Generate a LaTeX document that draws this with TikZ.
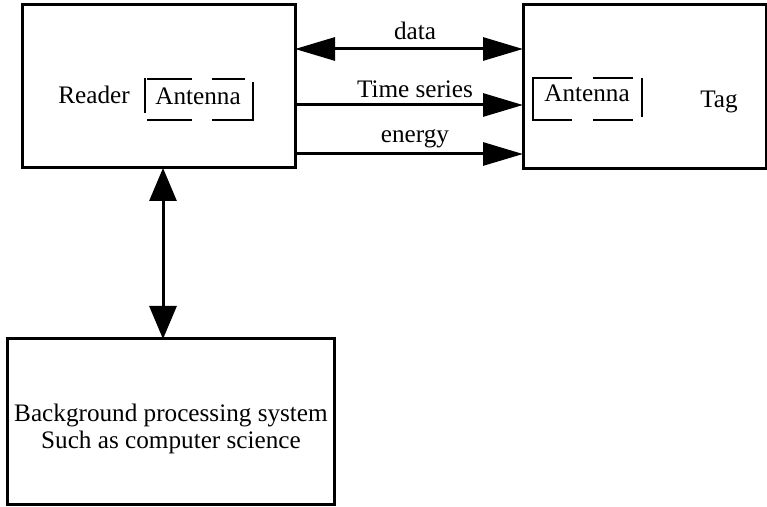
\documentclass[tikz,border=0pt]{standalone}
\usepackage{fontspec}
\setmainfont{Liberation Serif}
\usetikzlibrary{arrows.meta}
\begin{document}
\begin{tikzpicture}[x=0.5pt,y=-0.5pt,
  every node/.style={font=\fontsize{12.6}{15.5}\selectfont, inner sep=0pt, outer sep=0pt},
  block/.style={draw, line width=1.5pt, rectangle, outer sep=0pt},
  link/.style={line width=1.5pt},
  ant/.style={line width=1.4pt},
  lbl/.style={anchor=base}]
  \useasboundingbox (0,0) rectangle (767,507);

  % main blocks
  \node[block, minimum width=136.5pt, minimum height=81.5pt] (reader) at (158.5,86.5) {};
  \node[block, minimum width=121.5pt, minimum height=82pt] (tag) at (644.5,87) {};
  \node[block, minimum width=163.5pt, minimum height=83pt] (host) at (170.5,422) {};

  % block captions
  \node[lbl] (readertxt) at (94,104) {Reader};
  \node[lbl] (tagtxt) at (719,108) {Tag};
  \node[lbl] (hostline1) at (171,422) {Background processing system};
  \node[lbl] (hostline2) at (171,449) {Such as computer science};

  % reader antenna
  \node[lbl] (rant) at (198,105) {Antenna};
  \draw[ant] (145,78) -- (145,113);
  \draw[ant] (147,79) -- (192,79);
  \draw[ant] (212,79) -- (245,79);
  \draw[ant] (147,120) -- (192,120);
  \draw[ant] (212,120) -- (253,120) -- (253,82);

  % tag antenna
  \node[lbl] (tant) at (587,102) {Antenna};
  \draw[ant] (572,78) -- (533,78) -- (533,120) -- (572,120);
  \draw[ant] (593,78) -- (633,78);
  \draw[ant] (593,120) -- (633,120);
  \draw[ant] (642,78) -- (642,117);

  % links between reader and tag
  \coordinate (ydata) at (0,49);
  \coordinate (ytime) at (0,105);
  \coordinate (yenergy) at (0,154);
  \draw[link, {Triangle[length=20pt,width=11.5pt]}-{Triangle[length=20pt,width=11.5pt]}]
    (reader.east |- ydata) -- (tag.west |- ydata);
  \draw[link, -{Triangle[length=20pt,width=11.5pt]}]
    (reader.east |- ytime) -- (tag.west |- ytime);
  \draw[link, -{Triangle[length=20pt,width=11.5pt]}]
    (reader.east |- yenergy) -- (tag.west |- yenergy);
  \node[lbl] (ldata) at (415,40) {data};
  \node[lbl] (ltime) at (415,98) {Time series};
  \node[lbl] (lenergy) at (415,143) {energy};

  % link between reader and background system
  \coordinate (xv) at (163,0);
  \draw[link, {Triangle[length=16.5pt,width=13.5pt]}-{Triangle[length=16.5pt,width=13.5pt]}]
    (reader.south -| xv) -- (host.north -| xv);
\end{tikzpicture}
\end{document}
